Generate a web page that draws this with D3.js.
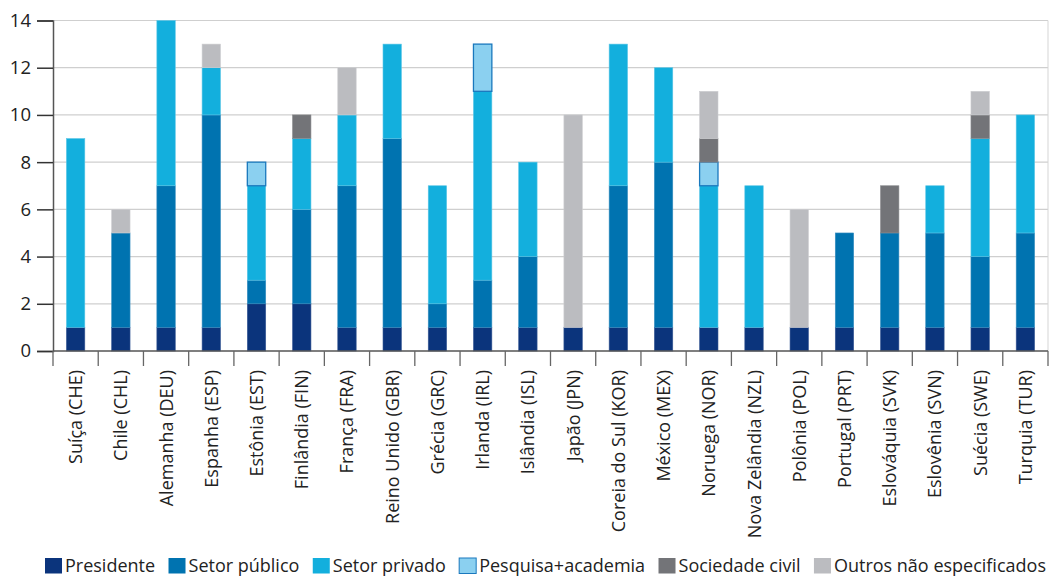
<!DOCTYPE html>
<html><head><meta charset="utf-8">
<script src="https://cdn.jsdelivr.net/npm/d3@7"></script>
<style>body{margin:0;background:#fff}svg{display:block}text{font-family:"Open Sans",sans-serif;fill:#222}</style>
</head><body><svg id="c" width="1050" height="577"></svg>
<script>
const categories=["Suíça (CHE)","Chile (CHL)","Alemanha (DEU)","Espanha (ESP)","Estônia (EST)","Finlândia (FIN)","França (FRA)","Reino Unido (GBR)","Grécia (GRC)","Irlanda (IRL)","Islândia (ISL)","Japão (JPN)","Coreia do Sul (KOR)","México (MEX)","Noruega (NOR)","Nova Zelândia (NZL)","Polônia (POL)","Portugal (PRT)","Eslováquia (SVK)","Eslovênia (SVN)","Suécia (SWE)","Turquia (TUR)"];
const seriesNames=["Presidente","Setor público","Setor privado","Pesquisa+academia","Sociedade civil","Outros não especificados"];
const presidente=[1,1,1,1,2,2,1,1,1,1,1,1,1,1,1,1,1,1,1,1,1,1];
const setorPublico=[0,4,6,9,1,4,6,8,1,2,3,0,6,7,0,0,0,4,4,4,3,4];
const setorPrivado=[8,0,7,2,4,3,3,4,5,8,4,0,6,4,6,6,0,0,0,2,5,5];
const pesquisa=[0,0,0,0,1,0,0,0,0,2,0,0,0,0,1,0,0,0,0,0,0,0];
const sociedadeCivil=[0,0,0,0,0,1,0,0,0,0,0,0,0,0,1,0,0,0,2,0,1,0];
const outros=[0,1,0,1,0,0,2,0,0,0,0,9,0,0,2,0,5,0,0,0,1,0];
const yTicks=[0,2,4,6,8,10,12,14];
const colors=["#0b347c","#0073b0","#13afdd","#8bd0f0","#737478","#bbbcc0"];
const strokes=["#3a5a95","#3a8fc0","#5cc6e6","#1a78bd","#8a8b8e","#cdced1"];

const seriesData=[presidente,setorPublico,setorPrivado,pesquisa,sociedadeCivil,outros];
const rows=categories.map((c,i)=>{const o={cat:c};seriesNames.forEach((s,j)=>o[s]=seriesData[j][i]);return o;});
const stack=d3.stack().keys(seriesNames)(rows);

const svg=d3.select("#c");
const m={l:53,r:1048,t:20.5,b:351};
const xb=d3.scaleBand().domain(categories).range([m.l,m.r]);
const y=d3.scaleLinear().domain([0,14]).range([m.b,m.t]);

// grid
svg.append("g").selectAll("line").data(yTicks.filter(d=>d>0)).join("line")
 .attr("x1",m.l).attr("x2",m.r).attr("y1",d=>y(d)).attr("y2",d=>y(d))
 .attr("stroke","#cfcfcf").attr("stroke-width",1.2);
svg.append("line").attr("x1",m.r).attr("x2",m.r).attr("y1",m.t).attr("y2",m.b).attr("stroke","#d5d5d5");

// bars
svg.append("g").selectAll("g").data(stack).join("g")
 .each(function(s,j){
   d3.select(this).selectAll("rect").data(s.filter(d=>d[1]-d[0]>0)).join("rect")
    .attr("x",d=>xb(d.data.cat)+xb.bandwidth()/2-9.2).attr("width",18.4)
    .attr("y",d=>y(d[1])).attr("height",d=>y(d[0])-y(d[1]))
    .attr("fill",colors[j]).attr("stroke",strokes[j]).attr("stroke-width",j===3?1.3:0.6);
 });

// y axis
const ya=svg.append("g").attr("transform",`translate(${m.l},0)`)
 .call(d3.axisLeft(y).tickValues(yTicks).tickSize(16).tickPadding(6));
ya.select(".domain").attr("stroke","#555").attr("stroke-width",1.5);
ya.selectAll(".tick line").attr("stroke","#333").attr("stroke-width",1.5);
ya.selectAll("text").attr("font-size",18.5).attr("fill","#222").attr("font-family","Open Sans");

// x axis
const xa=svg.append("g").attr("transform",`translate(0,${m.b})`);
xa.append("line").attr("x1",m.l).attr("x2",m.r).attr("stroke","#555").attr("stroke-width",1.5);
const bounds=categories.map(c=>xb(c)).concat([m.r]);
xa.selectAll("line.t").data(bounds).join("line").attr("class","t")
 .attr("x1",d=>d).attr("x2",d=>d).attr("y1",0).attr("y2",15).attr("stroke","#666").attr("stroke-width",1.3);
xa.selectAll("text").data(categories).join("text")
 .attr("transform",d=>`translate(${xb(d)+xb.bandwidth()/2+6.5},19) rotate(-90)`)
 .attr("text-anchor","end").attr("font-size",18).text(d=>d);

// legend
const lg=svg.append("g").attr("transform","translate(45,565.5)");
const items=seriesNames.map((s,j)=>{
  const g=lg.append("g");
  g.append("rect").attr("x",0).attr("y",-7.5).attr("width",17).attr("height",15.5)
   .attr("fill",colors[j]).attr("stroke",j===3?strokes[3]:"none").attr("stroke-width",1);
  const t=g.append("text").attr("x",20).attr("y",6.5).attr("font-size",18).text(s);
  return {g,w:20+t.node().getComputedTextLength()};
});
const sumW=d3.sum(items,d=>d.w);
const gap=Math.max(6,(1001-sumW)/(items.length-1));
let cx=0;
items.forEach(it=>{it.g.attr("transform",`translate(${cx},0)`);cx+=it.w+gap;});
</script></body></html>
